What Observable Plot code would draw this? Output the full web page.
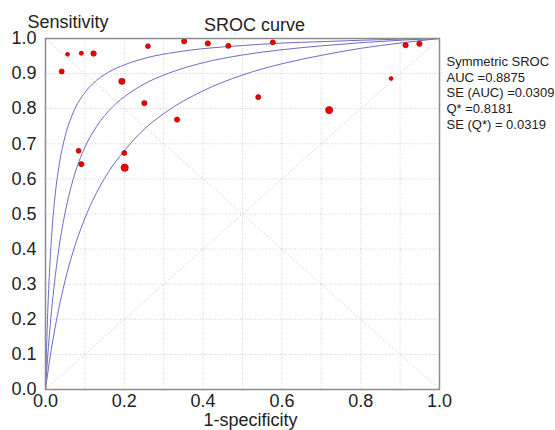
<!DOCTYPE html>
<html>
<head>
<meta charset="utf-8">
<script src="https://cdn.jsdelivr.net/npm/d3@7"></script>
<script src="https://cdn.jsdelivr.net/npm/@observablehq/plot@0.6"></script>
<style>
  html, body { margin: 0; padding: 0; background: #fff; }
  #chart { width: 555px; height: 430px; }
</style>
</head>
<body>
<div id="chart"></div>
<script>
// ---- Data ----
const studyFpr  = [0.041, 0.056, 0.091, 0.122, 0.260, 0.194, 0.251, 0.334, 0.352, 0.412, 0.464,
                   0.577, 0.540, 0.720, 0.877, 0.914, 0.949, 0.084, 0.091, 0.200, 0.201];
const studySens = [0.906, 0.955, 0.958, 0.957, 0.978, 0.878, 0.816, 0.769, 0.992, 0.986, 0.979,
                   0.989, 0.833, 0.796, 0.886, 0.981, 0.985, 0.680, 0.642, 0.674, 0.632];
const studyWeight = [25, 15, 17, 29, 23, 38, 27, 27, 27, 27, 25,
                     25, 25, 49, 15, 27, 27, 24, 25, 24, 51];

// SROC curve (middle) and its two bounding curves
const upperX = [0, 0.002, 0.005, 0.010, 0.017, 0.025, 0.035, 0.050, 0.070, 0.100, 0.130, 0.170, 0.210, 0.260, 0.330, 0.400, 0.500, 0.600, 0.700, 0.800, 0.900, 1.0];
const upperY = [0, 0.090, 0.199, 0.333, 0.461, 0.559, 0.642, 0.722, 0.788, 0.846, 0.881, 0.910, 0.929, 0.946, 0.961, 0.971, 0.980, 0.987, 0.991, 0.995, 0.998, 1.0];
const midX   = [0, 0.002, 0.005, 0.010, 0.017, 0.025, 0.035, 0.050, 0.070, 0.100, 0.130, 0.170, 0.210, 0.260, 0.330, 0.400, 0.500, 0.600, 0.700, 0.800, 0.900, 1.0];
const midY   = [0, 0.036, 0.085, 0.158, 0.243, 0.325, 0.410, 0.505, 0.598, 0.690, 0.750, 0.805, 0.842, 0.876, 0.908, 0.931, 0.953, 0.968, 0.979, 0.988, 0.995, 1.0];
const lowX   = [0, 0.005, 0.010, 0.020, 0.030, 0.045, 0.065, 0.090, 0.120, 0.160, 0.200, 0.250, 0.300, 0.400, 0.500, 0.600, 0.700, 0.800, 0.900, 1.0];
const lowY   = [0, 0.041, 0.080, 0.149, 0.210, 0.288, 0.374, 0.459, 0.539, 0.620, 0.680, 0.741, 0.786, 0.851, 0.896, 0.928, 0.952, 0.972, 0.987, 1.0];

const xTicks = [0, 0.2, 0.4, 0.6, 0.8, 1.0];
const yTicks = [0, 0.1, 0.2, 0.3, 0.4, 0.5, 0.6, 0.7, 0.8, 0.9, 1.0];
const gridValues = [0.1, 0.2, 0.3, 0.4, 0.5, 0.6, 0.7, 0.8, 0.9];
const refLines = [{x1: 0, y1: 0, x2: 1, y2: 1}, {x1: 0, y1: 1, x2: 1, y2: 0}];

const titleText = "SROC curve";
const yLabel = "Sensitivity";
const xLabel = "1-specificity";
const statsLines = ["Symmetric SROC", "AUC =0.8875", "SE (AUC) =0.0309", "Q* =0.8181", "SE (Q*) = 0.0319"];

// ---- Build tables ----
const studies = studyFpr.map((x, i) => ({x, y: studySens[i], w: studyWeight[i]}));
const curves = [
  ...upperX.map((x, i) => ({x, y: upperY[i], c: "upper"})),
  ...midX.map((x, i) => ({x, y: midY[i], c: "mid"})),
  ...lowX.map((x, i) => ({x, y: lowY[i], c: "low"}))
];

const font = "'Liberation Sans', Arial, Helvetica, sans-serif";

const chart = Plot.plot({
  width: 555,
  height: 430,
  marginLeft: 45,
  marginRight: 116,
  marginTop: 38,
  marginBottom: 41,
  style: {fontFamily: font, background: "#fff", color: "#222"},
  x: {domain: [0, 1], label: null},
  y: {domain: [0, 1], label: null},
  r: {type: "sqrt", domain: [0, 60], range: [0, 4]},
  marks: [
    Plot.ruleX(gridValues, {stroke: "#d2d2d2", strokeWidth: 1, strokeDasharray: "1,1.5"}),
    Plot.ruleY(gridValues, {stroke: "#d2d2d2", strokeWidth: 1, strokeDasharray: "1,1.5"}),
    Plot.link(refLines, {x1: "x1", y1: "y1", x2: "x2", y2: "y2", stroke: "#d8d8d8", strokeWidth: 1, strokeDasharray: "2,2"}),
    Plot.line(curves, {x: "x", y: "y", z: "c", curve: "monotone-x", stroke: "#6c6cc6", strokeWidth: 1}),
    Plot.dot(studies, {x: "x", y: "y", r: "w", fill: "#ee0000", stroke: "#a30000", strokeWidth: 0.6}),
    Plot.frame({stroke: "#8c8c8c", strokeWidth: 1.5}),
    Plot.axisX(xTicks, {tickFormat: d3.format(".1f"), tickSize: 0, tickPadding: 5, fontSize: 18, label: null}),
    Plot.axisY(yTicks, {tickFormat: d3.format(".1f"), tickSize: 0, tickPadding: 9, fontSize: 18, label: null}),
    Plot.text([yLabel], {frameAnchor: "top-left", text: d => d, textAnchor: "start", lineAnchor: "bottom", dx: -18, dy: -11, fontSize: 18, fill: "#222"}),
    Plot.text([titleText], {frameAnchor: "top", text: d => d, textAnchor: "middle", lineAnchor: "bottom", dx: 12, dy: -8, fontSize: 18, fill: "#222"}),
    Plot.text([xLabel], {frameAnchor: "bottom", text: d => d, textAnchor: "middle", lineAnchor: "bottom", dx: 8, dy: 36, fontSize: 18, fill: "#222"}),
    Plot.text([statsLines.join("\n")], {frameAnchor: "top-right", text: d => d, textAnchor: "start", lineAnchor: "top", dx: 7, dy: 16, fontSize: 13, lineHeight: 1.22, fill: "#222"})
  ]
});

document.getElementById("chart").appendChild(chart);
</script>
</body>
</html>
